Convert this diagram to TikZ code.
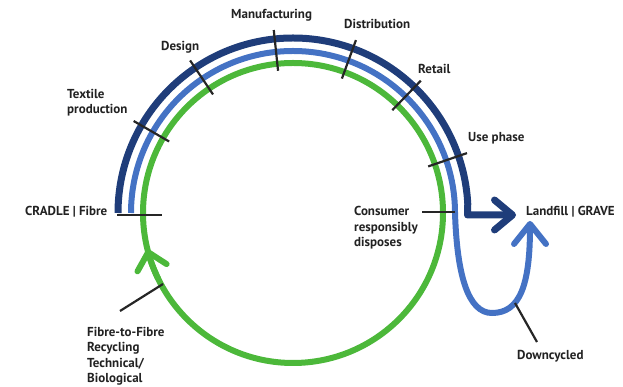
\documentclass[tikz,border=0pt]{standalone}
\usepackage{fontspec}
\setmainfont{PT Sans}
\usetikzlibrary{arrows.meta,calc}
\definecolor{darkb}{HTML}{1F3D7A}
\definecolor{midb}{HTML}{4472C4}
\definecolor{grn}{HTML}{4CB83A}
\definecolor{txt}{HTML}{222222}
\begin{document}
\begin{tikzpicture}[x=1pt,y=1pt,
 lbl/.style={font=\bfseries\fontsize{13}{15.5}\selectfont, text=txt, inner sep=0pt, anchor=west, align=left},
 tickline/.style={line width=2.2pt, black!85},
 darkline/.style={line width=7pt, darkb, line join=round},
 midline/.style={line width=6pt, midb},
 grnline/.style={line width=6pt, grn},
 barbA/.style={-{Straight Barb[length=18pt,width=30pt,line cap=round,line join=round]}},
 barbB/.style={-{Straight Barb[length=20pt,width=32pt,line cap=round,line join=round]}},
 barbG/.style={-{Straight Barb[length=16pt,width=30pt,line cap=round,line join=round]}}
]
\useasboundingbox (0,0) rectangle (623,387);
\coordinate (C) at (293,174);
% green loop
\draw[grnline] (C) circle (150);
\draw[grnline, barbG] ($(C)+(206:150)$) arc (206:194:150);
% mid blue path with U to landfill
\draw[midline, barbB] ($(C)+(180:162)$) arc (180:0:162)
  .. controls (457,112) and (468,74) .. (492,74)
  .. controls (520,74) and (530,102) .. (530,166);
% dark blue path to landfill
\draw[darkline, barbA] ($(C)+(180:175)$) arc (180:3:175) -- (467.5,172) -- (516,172);
% stage ticks
\foreach \a in {150,124,96,70,46,19}
  \draw[tickline] ($(C)+(\a:143)$) -- ($(C)+(\a:184)$);
\coordinate (cr1) at (117,172);
\coordinate (cr2) at (162,172);
\draw[tickline] (cr1) -- (cr2);
% labels
\node[lbl] (manu) at (231,372) {Manufacturing};
\node[lbl] (dist) at (344,363) {Distribution};
\node[lbl] (des) at (161,340) {Design};
\node[lbl] (tex) at (67,284.5) {Textile\\production};
\node[lbl] (ret) at (418,318) {Retail};
\node[lbl] (use) at (468,249) {Use phase};
\node[lbl] (cradle) at (25,175) {CRADLE | Fibre};
\node[lbl] (cons) at (354,159) {Consumer\\responsibly\\disposes};
\node[lbl] (grave) at (526,175) {Landfill | GRAVE};
\node[lbl] (down) at (517,31) {Downcycled};
\node[lbl] (f2f) at (87,30.5) {Fibre-to-Fibre\\Recycling\\Technical/\\Biological};
% leader lines
\coordinate (consA) at (422,175);
\coordinate (consB) at (455,175);
\draw[tickline] (consA) -- (consB);
\coordinate (f2fA) at (120,76);
\coordinate (f2fB) at (163,103);
\draw[tickline] (f2fA) -- (f2fB);
\coordinate (downA) at (537,45);
\coordinate (downB) at (515,84);
\draw[tickline] (downA) -- (downB);
\end{tikzpicture}
\end{document}
